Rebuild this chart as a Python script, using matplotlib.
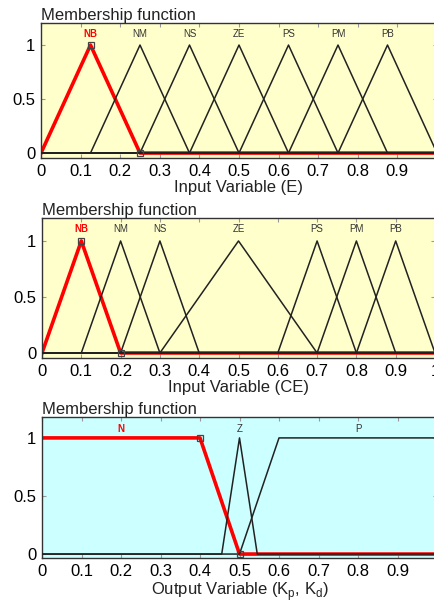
import numpy as np
import matplotlib
matplotlib.use("Agg")
from matplotlib import pyplot as plt

plt.rcParams['font.family'] = ['Liberation Sans', 'DejaVu Sans']

# input E: seven triangles [a, b, c]
e_names = ['NB', 'NM', 'NS', 'ZE', 'PS', 'PM', 'PB']
e_params = [[0.0, 0.125, 0.25], [0.125, 0.25, 0.375], [0.25, 0.375, 0.5],
            [0.375, 0.5, 0.625], [0.5, 0.625, 0.75], [0.625, 0.75, 0.875],
            [0.75, 0.875, 1.0]]

# input CE
ce_names = ['NB', 'NM', 'NS', 'ZE', 'PS', 'PM', 'PB']
ce_params = [[0.0, 0.1, 0.2], [0.1, 0.2, 0.3], [0.2, 0.3, 0.4],
             [0.3, 0.5, 0.7], [0.6, 0.7, 0.8], [0.7, 0.8, 0.9],
             [0.8, 0.9, 1.0]]

# output Kp, Kd: trapezoids [a, b, c, d]
out_names = ['N', 'Z', 'P']
out_params = [[0.0, 0.0, 0.4, 0.5], [0.455, 0.5, 0.5, 0.545], [0.5, 0.6, 1.0, 1.0]]

x = np.linspace(0, 1, 2001)


def mf(p):
    if len(p) == 3:
        a, b, d = p
        c = b
    else:
        a, b, c, d = p
    up = np.where(x >= b, 1.0, (x - a) / max(b - a, 1e-9))
    down = np.where(x <= c, 1.0, (d - x) / max(d - c, 1e-9))
    return np.clip(np.minimum(up, down), 0, 1)


def draw(rect, names, params, bg, xlabel, ylim):
    ax = fig.add_axes(rect)
    ax.set_facecolor(bg)
    # selected function in red, under the others
    sel = params[0]
    ax.plot(x, mf(sel), color='red', lw=2.6, zorder=2)
    ax.plot([sel[-2], sel[-1]], [1, 0], 's',
            ms=4, mfc='none', mec='#444444', mew=0.9, zorder=4)
    for p in params[1:]:
        ax.plot(x, mf(p), color='#222222', lw=1.1, zorder=3)
    for i, (n, p) in enumerate(zip(names, params)):
        if len(p) == 3:
            cx = p[1]
        else:
            cx = (max(p[1], 0.0) + min(p[2], 1.0)) / 2
        ax.text(cx, ylim[1] - 0.1, n, ha='center', va='center', fontsize=7,
                color='red' if i == 0 else '#333333',
                fontweight='bold' if i == 0 else 'normal')
    ax.set_xlim(0, 1)
    ax.set_ylim(*ylim)
    ax.set_xticks(np.arange(0, 1.01, 0.1))
    ax.set_xticklabels(['0', '0.1', '0.2', '0.3', '0.4', '0.5', '0.6',
                        '0.7', '0.8', '0.9', '1'])
    ax.set_yticks([0, 0.5, 1])
    ax.set_yticklabels(['0', '0.5', '1'])
    ax.tick_params(direction='in', top=True, right=True, length=3,
                   color='#999999', labelsize=12, pad=4)
    for s in ax.spines.values():
        s.set_color('#333333')
        s.set_linewidth(1.0)
    ax.set_xlabel(xlabel, fontsize=12, labelpad=1, color='#222222')
    ax.set_title('Membership function', loc='left', fontsize=12, pad=2,
                 color='#222222')
    return ax


fig = plt.figure(figsize=(4.34, 6.03), dpi=100)

draw([41 / 434, 1 - 158 / 603, 396 / 434, 135 / 603], e_names, e_params,
     '#ffffcc', 'Input Variable (E)', (-0.046, 1.204))
draw([42 / 434, 1 - 358 / 603, 393 / 434, 140 / 603], ce_names, ce_params,
     '#ffffcc', 'Input Variable (CE)', (-0.045, 1.205))
draw([42 / 434, 1 - 558 / 603, 395 / 434, 141 / 603], out_names, out_params,
     '#ccffff', r'Output Variable (K$_\mathregular{p}$, K$_\mathregular{d}$)',
     (-0.034, 1.18))

fig.savefig('out.png', dpi=100)
